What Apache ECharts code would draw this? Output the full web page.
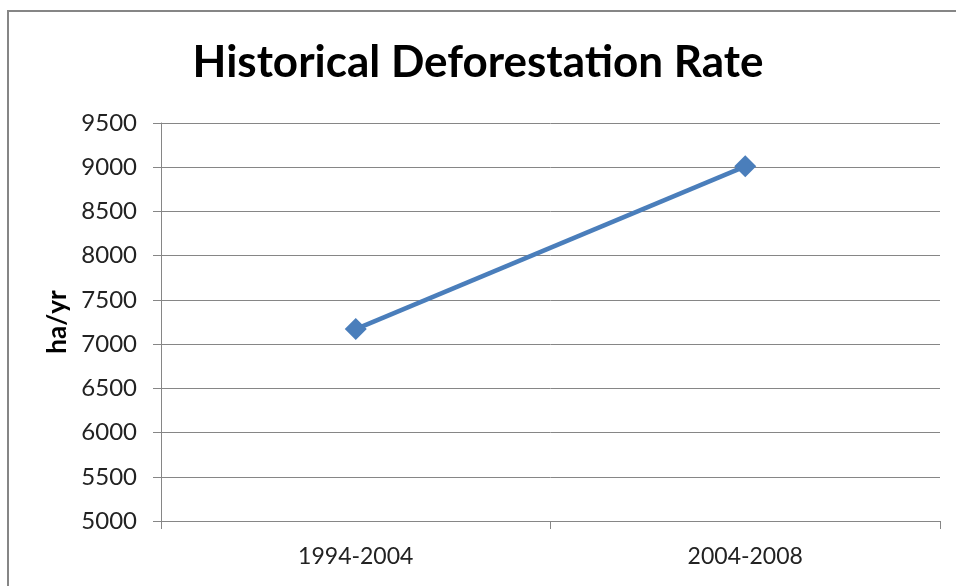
<!DOCTYPE html>
<html>
<head>
<meta charset="utf-8">
<style>
  html, body { margin: 0; padding: 0; background: #fff; }
  #main { width: 956px; height: 586px; }
</style>
<script src="https://cdn.jsdelivr.net/npm/echarts@6/dist/echarts.min.js"></script>
</head>
<body>
<div id="main"></div>
<script>
// data
var periods = ['1994-2004', '2004-2008'];
var rates = [7170, 9010];
var yTicks = { min: 5000, max: 9500, step: 500 };

var dom = document.getElementById('main');
var myChart = echarts.init(dom, null, { renderer: 'canvas' });

var font = 'Lato, sans-serif';
var gray = '#868686';

var option = {
    backgroundColor: '#fff',
    animation: false,
    title: {
        text: 'Historical Deforestation Rate',
        left: 'center',
        top: 36,
        textStyle: { fontFamily: font, fontWeight: 'bold', fontSize: 44, color: '#000' }
    },
    graphic: [
        {
            type: 'rect',
            shape: { x: 8, y: 11, width: 1000, height: 700 },
            style: { fill: 'none', stroke: gray, lineWidth: 2 },
            silent: true
        }
    ],
    grid: { left: 161, right: 16, top: 123, bottom: 65 },
    xAxis: {
        type: 'category',
        data: periods,
        boundaryGap: true,
        axisLine: { lineStyle: { color: gray, width: 1 } },
        axisTick: { show: true, length: 8, lineStyle: { color: gray } },
        axisLabel: { fontFamily: font, fontSize: 23, color: '#222', margin: 24 }
    },
    yAxis: {
        type: 'value',
        min: yTicks.min,
        max: yTicks.max,
        interval: yTicks.step,
        name: 'ha/yr',
        nameLocation: 'middle',
        nameGap: 88,
        nameRotate: 90,
        nameTextStyle: { fontFamily: font, fontWeight: 'bold', fontSize: 26, color: '#000' },
        axisLine: { show: true, lineStyle: { color: gray, width: 1 } },
        axisTick: { show: true, length: 8, lineStyle: { color: gray } },
        axisLabel: {
            fontFamily: font, fontSize: 24, color: '#222', margin: 24,
            formatter: function (v) { return String(v); }
        },
        splitLine: { show: true, lineStyle: { color: gray, width: 1 } }
    },
    series: [
        {
            type: 'line',
            data: rates,
            symbol: 'diamond',
            symbolSize: 22,
            lineStyle: { color: '#4a7ebb', width: 4.5 },
            itemStyle: { color: '#4a7ebb' }
        }
    ]
};

myChart.setOption(option);
window.addEventListener('resize', myChart.resize);
</script>
</body>
</html>
